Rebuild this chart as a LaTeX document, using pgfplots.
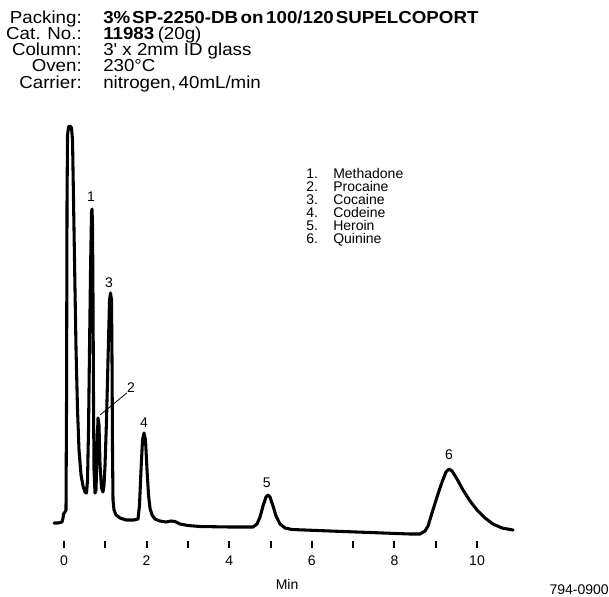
\documentclass[border=0pt]{standalone}
\usepackage{fontspec}
\setmainfont{Liberation Sans}
\newfontfamily\hdr[FakeStretch=1.08]{Liberation Sans}
\usepackage{pgfplots}
\pgfplotsset{compat=1.18}
\begin{document}
\begin{tikzpicture}[x=0.75pt,y=-0.75pt]
\path[use as bounding box] (0,0) rectangle (609,596);
% header
\begin{scope}[every node/.style={inner sep=0pt, font=\hdr\fontsize{13}{13}\selectfont}]
\node[anchor=base east] at (82,23) {Packing:};
\node[anchor=base east] at (82,39.3) {Cat. No.:};
\node[anchor=base east] at (82,55.6) {Column:};
\node[anchor=base east] at (82,71.9) {Oven:};
\node[anchor=base east] at (82,88.2) {Carrier:};
\node[anchor=base west] at (103,23) {\textbf{3\%\hspace{0.1em}SP-2250-DB\hspace{0.15em}on\hspace{0.15em}100/120\hspace{0.12em}SUPELCOPORT}};
\node[anchor=base west] at (103,39.3) {\textbf{11983}\hspace{0.2em}(20g)};
\node[anchor=base west] at (103,55.6) {3\symbol{39} x 2mm ID glass};
\node[anchor=base west] at (103,71.9) {230°C};
\node[anchor=base west] at (103,88.2) {nitrogen,\hspace{0.15em}40mL/min};
\end{scope}
% compound list
\begin{scope}[every node/.style={inner sep=0pt, font=\fontsize{10.5}{12}\selectfont}]
\node[anchor=base west] at (306,178) {1.};
\node[anchor=base west] at (333,178) {Methadone};
\node[anchor=base west] at (306,191) {2.};
\node[anchor=base west] at (333,191) {Procaine};
\node[anchor=base west] at (306,204) {3.};
\node[anchor=base west] at (333,204) {Cocaine};
\node[anchor=base west] at (306,217) {4.};
\node[anchor=base west] at (333,217) {Codeine};
\node[anchor=base west] at (306,230) {5.};
\node[anchor=base west] at (333,230) {Heroin};
\node[anchor=base west] at (306,243) {6.};
\node[anchor=base west] at (333,243) {Quinine};
\node[anchor=base east] at (609,594) {794-0900};
\end{scope}
\begin{axis}[at={(35.625pt,-405.75pt)}, anchor=south west, scale only axis,
  width=359.3pt, height=312pt,
  xmin=-0.4, xmax=11.2, ymin=-6, ymax=410,
  axis x line=bottom, axis y line=none,
  x axis line style={draw=none},
  xtick={0,1,2,3,4,5,6,7,8,9,10},
  xticklabels={0,,2,,4,,6,,8,,10},
  tick align=outside, major tick length=5.25pt,
  tick style={line width=1.5pt,black},
  ticklabel style={font=\fontsize{10.5}{12}\selectfont},
  xticklabel style={yshift=-2pt},
  /pgf/number format/assume math mode=true,
  xlabel={Min}, xlabel style={font=\fontsize{10.5}{12}\selectfont, yshift=-4pt},
  clip=false]
\addplot[black, line width=2.3pt, line join=round, line cap=round] coordinates {
(-0.242,12) (-0.145,12) (-0.048,13) (-0.024,17) (-0.012,21) (0.024,23) (0.048,25)
(0.061,135) (0.073,335) (0.085,400) (0.109,408) (0.145,409) (0.182,407) (0.206,395)
(0.218,365) (0.242,305) (0.266,245) (0.291,185) (0.327,125) (0.363,85) (0.412,60)
(0.460,49) (0.508,43) (0.545,42)
(0.569,55) (0.593,105) (0.617,185) (0.642,265) (0.666,323) (0.678,326) (0.690,310)
(0.702,235) (0.714,135) (0.726,65) (0.751,42)
(0.775,45) (0.799,85) (0.823,117) (0.847,110) (0.872,70) (0.908,47) (0.944,43)
(0.969,50) (0.993,70) (1.029,115) (1.065,175) (1.102,235) (1.126,242) (1.150,235)
(1.162,175) (1.174,85) (1.186,35) (1.211,25) (1.259,20) (1.356,17) (1.501,15)
(1.695,15) (1.792,16)
(1.828,30) (1.864,65) (1.901,95) (1.937,102) (1.973,95) (2.010,65) (2.046,40)
(2.082,27) (2.131,20) (2.203,16) (2.324,14) (2.470,13) (2.591,14) (2.688,13.5)
(2.809,11) (3.002,9.5) (3.293,8.5) (4.019,8) (4.576,8)
(4.673,11) (4.746,18) (4.818,29) (4.891,38) (4.939,40) (4.988,38) (5.061,29)
(5.133,19) (5.230,11) (5.351,7) (5.521,5.5) (6.441,4) (7.409,2.5) (8.378,1)
(8.620,1) (8.741,4) (8.814,9) (8.910,22) (9.031,38) (9.153,53) (9.249,63)
(9.322,66) (9.395,64) (9.516,56) (9.661,45) (9.831,34) (10.000,25) (10.194,17)
(10.387,11) (10.605,7) (10.872,5)
};
\begin{scope}[every node/.style={inner sep=0pt, font=\fontsize{10.5}{12}\selectfont}]
\node at (axis cs:0.654,338) {1};
\node at (axis cs:1.62,147) {2};
\node at (axis cs:1.090,252) {3};
\node at (axis cs:1.937,112) {4};
\node at (axis cs:4.908,52) {5};
\node at (axis cs:9.322,80) {6};
\end{scope}
\draw[black, line width=0.6pt] (axis cs:0.872,120) -- (axis cs:1.52,142);
\end{axis}
\end{tikzpicture}
\end{document}
